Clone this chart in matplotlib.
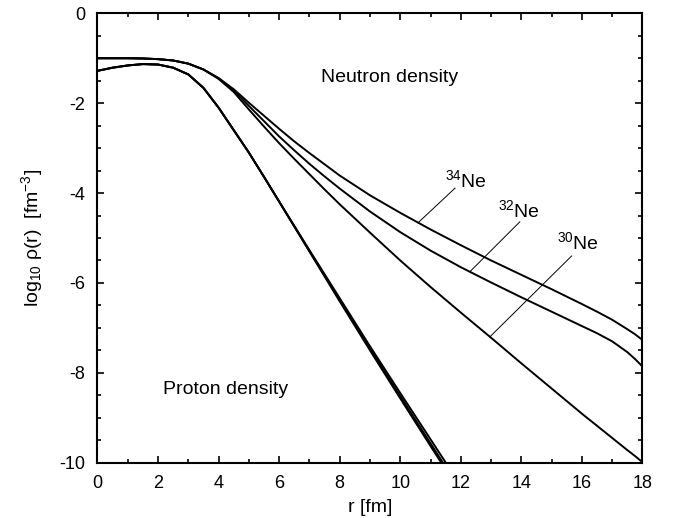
import numpy as np
import matplotlib
matplotlib.use("Agg")
import matplotlib.pyplot as plt

plt.rcParams["font.family"] = ["Liberation Sans", "DejaVu Sans"]
plt.rcParams["mathtext.fontset"] = "custom"
plt.rcParams["mathtext.rm"] = "Liberation Sans"
plt.rcParams["mathtext.it"] = "Liberation Sans:italic"
plt.rcParams["axes.unicode_minus"] = False

# --- neutron densities, log10 rho(r) ---
r_n = [0, 0.5, 1, 1.5, 2, 2.5, 3, 3.5, 4, 4.5, 5, 5.5, 6, 6.5, 7, 7.5, 8, 9, 10,
       11, 12, 13, 14, 15, 16, 16.5, 17, 17.5, 17.75, 18]
n_34 = [-1.0, -1.0, -1.0, -1.005, -1.02, -1.05, -1.12, -1.25, -1.44, -1.69, -1.99, -2.28,
        -2.57, -2.85, -3.11, -3.36, -3.61, -4.05, -4.44, -4.81, -5.16, -5.50, -5.82,
        -6.14, -6.47, -6.64, -6.82, -7.03, -7.14, -7.27]
n_32 = [-1.0, -1.0, -1.0, -1.005, -1.02, -1.05, -1.12, -1.25, -1.45, -1.72, -2.06, -2.40,
        -2.74, -3.05, -3.35, -3.63, -3.90, -4.41, -4.87, -5.28, -5.65, -5.99, -6.32,
        -6.64, -6.96, -7.12, -7.30, -7.54, -7.69, -7.86]
n_30 = [-1.0, -1.0, -1.0, -1.005, -1.02, -1.05, -1.12, -1.25, -1.46, -1.75, -2.14, -2.52,
        -2.89, -3.24, -3.58, -3.92, -4.25, -4.88, -5.50, -6.09, -6.66, -7.22, -7.79,
        -8.35, -8.91, -9.18, -9.45, -9.72, -9.85, -9.99]

# --- proton densities ---
r_p = [0, 0.5, 1, 1.5, 2, 2.5, 3, 3.5, 4, 4.5, 5, 5.5, 6, 7, 8, 9, 10, 11, 11.6]
p_30 = [-1.28, -1.21, -1.16, -1.13, -1.14, -1.21, -1.36, -1.66, -2.10, -2.60, -3.10, -3.64,
        -4.19, -5.30, -6.41, -7.50, -8.57, -9.63, -10.26]
p_32 = [-1.28, -1.21, -1.16, -1.13, -1.14, -1.21, -1.36, -1.66, -2.10, -2.60, -3.10, -3.64,
        -4.19, -5.29, -6.38, -7.46, -8.52, -9.57, -10.20]
p_34 = [-1.28, -1.21, -1.16, -1.13, -1.14, -1.21, -1.36, -1.66, -2.10, -2.60, -3.10, -3.64,
        -4.19, -5.27, -6.34, -7.41, -8.45, -9.48, -10.10]

# --- isotope labels: mass number, label anchor, pointer start, pointer end ---
iso_names = ["34", "32", "30"]
iso_text_xy = [(11.47, -3.87), (13.22, -4.53), (15.17, -5.25)]
iso_ptr_from = [(11.81, -3.89), (13.95, -4.64), (15.66, -5.40)]
iso_ptr_to = [(10.59, -4.66), (12.30, -5.75), (12.96, -7.20)]

fig = plt.figure(figsize=(6.77, 5.18), dpi=100)
ax = fig.add_axes([0.144, 0.1068, 0.805, 0.8675])

for yy in (n_34, n_32, n_30):
    ax.plot(r_n, yy, color="black", lw=1.4)
for yy in (p_30, p_32, p_34):
    ax.plot(r_p, yy, color="black", lw=1.4)

for name, txy, p0, p1 in zip(iso_names, iso_text_xy, iso_ptr_from, iso_ptr_to):
    ax.plot([p0[0], p1[0]], [p0[1], p1[1]], color="black", lw=0.7)
    ax.text(txy[0], txy[1], r"$^{%s}$Ne" % name, fontsize=14, ha="left", va="baseline")

ax.text(7.37, -1.42, "Neutron density", fontsize=14, ha="left", va="center")
ax.text(2.16, -8.38, "Proton density", fontsize=14, ha="left", va="center")

ax.set_xlim(0, 18)
ax.set_ylim(-10, 0)
ax.set_xticks(np.arange(0, 19, 2))
ax.set_xticks(np.arange(0, 19, 1), minor=True)
ax.set_yticks(np.arange(-10, 1, 2))
ax.set_yticks(np.arange(-10, 0.1, 0.5), minor=True)
ax.tick_params(which="both", direction="in", top=True, right=True, width=1.2)
ax.tick_params(which="major", length=5, labelsize=13)
ax.tick_params(which="minor", length=3)
ax.tick_params(axis="x", pad=9)
ax.tick_params(axis="y", pad=9)
for s in ax.spines.values():
    s.set_linewidth(1.5)

ax.set_xlabel("r [fm]", fontsize=14, labelpad=5)
ax.set_ylabel(r"log$_{10}$ ρ(r)  [fm$^{-3}$]", fontsize=14, labelpad=10)

fig.savefig("out.png", dpi=100)
